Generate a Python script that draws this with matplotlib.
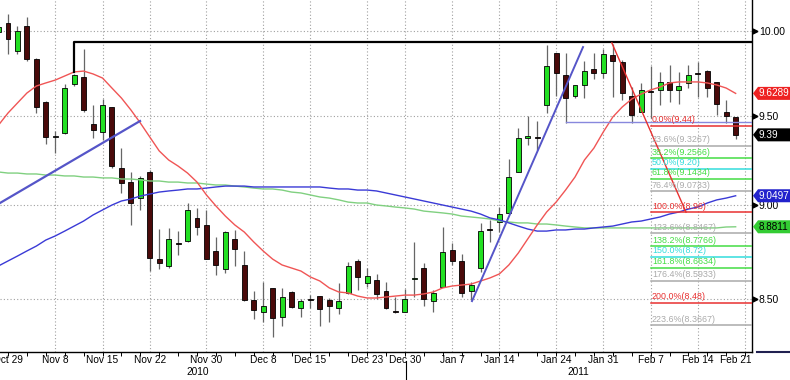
import numpy as np
import matplotlib.pyplot as plt
from matplotlib.patches import Rectangle, Polygon
from matplotlib.lines import Line2D
from matplotlib.ticker import NullLocator

plt.rcParams['font.family'] = ['Liberation Sans', 'DejaVu Sans']

W, H = 790, 380

# daily candles, first one (index -1) is cut by the left edge
opens = [9.994, 10.049, 9.880, 10.030, 9.832, 9.579, 9.378, 9.401, 9.684, 9.725,
         9.452, 9.407, 9.550, 9.203, 9.125, 9.037, 9.181, 8.709, 8.673, 8.794,
         8.805, 8.929, 8.891, 8.752, 8.657, 8.816, 8.678, 8.496, 8.434, 8.558,
         8.408, 8.537, 8.455, 8.496, 8.516, 8.496, 8.455, 8.532, 8.699, 8.584,
         8.599, 8.542, 8.439, 8.434, 8.604, 8.662, 8.490, 8.563, 8.757, 8.699,
         8.542, 8.662, 8.869, 8.907, 8.956, 9.181, 9.372, 9.378, 9.561, 9.868,
         9.737, 9.614, 9.678, 9.772, 9.749, 9.856, 9.814, 9.614, 9.521, 9.643,
         9.649, 9.696, 9.649, 9.690, 9.749, 9.760, 9.696, 9.521, 9.492]
highs = [10.036, 10.104, 10.030, 10.085, 9.835, 9.582, 9.412, 9.684, 9.743, 9.891,
         9.561, 9.596, 9.552, 9.315, 9.181, 9.159, 9.192, 8.869, 8.875, 8.858,
         9.010, 8.983, 8.972, 8.826, 8.858, 8.864, 8.752, 8.542, 8.589, 8.560,
         8.558, 8.542, 8.501, 8.521, 8.518, 8.506, 8.584, 8.694, 8.709, 8.662,
         8.631, 8.589, 8.511, 8.552, 8.800, 8.688, 8.547, 8.880, 8.794, 8.736,
         8.589, 8.902, 8.918, 8.988, 9.254, 9.429, 9.498, 9.469, 9.916, 9.870,
         9.868, 9.680, 9.820, 9.868, 9.891, 9.922, 9.826, 9.666, 9.690, 9.790,
         9.755, 9.796, 9.755, 9.796, 9.814, 9.766, 9.698, 9.590, 9.494]
lows = [9.982, 9.862, 9.862, 9.820, 9.515, 9.338, 9.287, 9.395, 9.672, 9.521,
        9.372, 9.361, 9.203, 9.065, 8.891, 8.972, 8.646, 8.657, 8.662, 8.731,
        8.800, 8.837, 8.707, 8.625, 8.636, 8.673, 8.490, 8.398, 8.383, 8.307,
        8.363, 8.455, 8.408, 8.455, 8.363, 8.383, 8.424, 8.527, 8.547, 8.563,
        8.501, 8.450, 8.429, 8.432, 8.511, 8.465, 8.434, 8.561, 8.678, 8.511,
        8.496, 8.641, 8.800, 8.853, 8.954, 9.179, 9.332, 9.304, 9.515, 9.614,
        9.458, 9.602, 9.602, 9.713, 9.719, 9.608, 9.590, 9.458, 9.519, 9.486,
        9.561, 9.579, 9.567, 9.660, 9.608, 9.608, 9.504, 9.458, 9.366]
closes = [10.024, 9.952, 10.000, 9.832, 9.550, 9.378, 9.378, 9.660, 9.737, 9.532,
          9.418, 9.561, 9.214, 9.120, 9.010, 9.148, 8.715, 8.688, 8.816, 8.789,
          8.972, 8.880, 8.709, 8.678, 8.853, 8.762, 8.496, 8.444, 8.465, 8.403,
          8.511, 8.460, 8.490, 8.495, 8.450, 8.465, 8.490, 8.673, 8.615, 8.620,
          8.527, 8.455, 8.434, 8.501, 8.605, 8.501, 8.532, 8.746, 8.699, 8.532,
          8.573, 8.858, 8.864, 8.950, 9.153, 9.372, 9.384, 9.372, 9.790, 9.749,
          9.602, 9.678, 9.760, 9.749, 9.862, 9.820, 9.631, 9.504, 9.649, 9.637,
          9.696, 9.649, 9.672, 9.737, 9.743, 9.660, 9.567, 9.498, 9.390]

ma_fast = [9.446, 9.515, 9.573, 9.631, 9.672, 9.690, 9.707, 9.731, 9.755, 9.760,
           9.743, 9.719, 9.660, 9.602, 9.533, 9.458, 9.378, 9.299, 9.248, 9.214,
           9.175, 9.125, 9.054, 8.994, 8.939, 8.891, 8.853, 8.800, 8.752, 8.709,
           8.678, 8.662, 8.646, 8.615, 8.594, 8.558, 8.537, 8.532, 8.516, 8.506,
           8.506, 8.511, 8.516, 8.521, 8.521, 8.527, 8.537, 8.558, 8.568, 8.573,
           8.578, 8.594, 8.610, 8.631, 8.678, 8.741, 8.816, 8.891, 8.961, 9.015,
           9.081, 9.153, 9.248, 9.315, 9.407, 9.492, 9.550, 9.596, 9.625, 9.649,
           9.666, 9.690, 9.696, 9.696, 9.696, 9.690, 9.678, 9.660, 9.6289]
ma_mid = [8.673, 8.699, 8.725, 8.752, 8.778, 8.810, 8.832, 8.858, 8.885, 8.912,
          8.945, 8.972, 8.999, 9.021, 9.032, 9.048, 9.059, 9.070, 9.076, 9.081,
          9.087, 9.087, 9.092, 9.098, 9.103, 9.103, 9.103, 9.098, 9.098, 9.098,
          9.098, 9.098, 9.098, 9.098, 9.098, 9.092, 9.087, 9.087, 9.081, 9.081,
          9.076, 9.065, 9.054, 9.043, 9.032, 9.021, 9.010, 8.999, 8.988, 8.977,
          8.966, 8.950, 8.929, 8.918, 8.902, 8.885, 8.869, 8.858, 8.858, 8.864,
          8.864, 8.869, 8.869, 8.875, 8.880, 8.885, 8.896, 8.907, 8.912, 8.923,
          8.934, 8.950, 8.961, 8.977, 8.988, 9.010, 9.027, 9.037, 9.0497]
ma_slow = [9.181, 9.175, 9.175, 9.170, 9.170, 9.164, 9.164, 9.159, 9.159, 9.153,
           9.153, 9.148, 9.148, 9.142, 9.142, 9.137, 9.131, 9.131, 9.125, 9.125,
           9.120, 9.120, 9.114, 9.109, 9.109, 9.103, 9.098, 9.092, 9.087, 9.087,
           9.081, 9.070, 9.065, 9.054, 9.043, 9.037, 9.027, 9.015, 9.010, 9.010,
           8.999, 8.994, 8.988, 8.983, 8.977, 8.966, 8.961, 8.956, 8.950, 8.939,
           8.934, 8.929, 8.923, 8.912, 8.907, 8.902, 8.902, 8.896, 8.896, 8.891,
           8.885, 8.880, 8.875, 8.875, 8.875, 8.875, 8.875, 8.875, 8.875, 8.875,
           8.875, 8.875, 8.875, 8.875, 8.875, 8.875, 8.875, 8.880, 8.8811]

date_labels = ['Oct 29', 'Nov 8', 'Nov 15', 'Nov 22', 'Nov 30', 'Dec 8', 'Dec 15', 'Dec 23',
               'Dec 30', 'Jan 7', 'Jan 14', 'Jan 24', 'Jan 31', 'Feb 7', 'Feb 14', 'Feb 21']
date_pos = [0, 5, 10, 15, 21, 27, 32, 38, 42, 47, 52, 58, 63, 68, 73, 78]
year_labels = ['2010', '2011']
year_pos = [20.1, 60.3]

price_ticks = [8.5, 9.0, 9.5, 10.0]

# drawn lines (index, price)
trend1_x, trend1_y = [-0.85, 13.97], [9.010, 9.469]
trend2_x, trend2_y = [49.1, 60.85], [8.490, 9.903]
resist_x, resist_y = [7, 7, 80], [9.755, 9.934, 9.934]
support_x, support_y = [59, 80], [9.463, 9.463]
fib_diag_x, fib_diag_y = [63.9, 71.75], [9.928, 8.96]

fib_start = 68.04
fib_pct = ['0.0%', '23.6%', '38.2%', '50.0%', '61.8%', '76.4%', '100.0%',
           '123.6%', '138.2%', '150.0%', '161.8%', '176.4%', '200.0%', '223.6%']
fib_val = ['9.44', '9.3267', '9.2566', '9.20', '9.1434', '9.0733', '8.96',
           '8.8467', '8.7766', '8.72', '8.6634', '8.5933', '8.48', '8.3667']
RED, GRAY, GRN, CYAN = '#e83030', '#aaaaaa', '#44dd44', '#33dddd'
fib_col = [RED, GRAY, GRN, CYAN, GRN, GRAY, RED, GRAY, GRN, CYAN, GRN, GRAY, RED, GRAY]

fig = plt.figure(figsize=(W / 100, H / 100), dpi=100)
ax = fig.add_axes([0, 28 / H, 752 / W, 352 / H])
ax.set_yscale('log')
ax.set_ylim(8.2321, 10.1896)
ax.set_xlim(-0.847, 78.73)

# grid
for p in price_ticks:
    ax.axhline(p, color='#a0a0a0', lw=0.8, ls=(0, (1, 2)), zorder=0)
for d in date_pos[1:]:
    ax.axvline(d, color='#a0a0a0', lw=0.8, ls=(0, (1, 2)), zorder=0)

# candles
for k, (o, h, l, c) in enumerate(zip(opens, highs, lows, closes)):
    x = k - 1
    if c > o:
        fc = '#22e022'
    elif c < o:
        fc = '#4a0a0a'
    else:
        fc = '#909090'
    ax.vlines(x, l, h, color='#666666', lw=0.9, zorder=2)
    ax.add_patch(Rectangle((x - 0.26, min(o, c)), 0.52, max(abs(c - o), 0.004),
                           fc=fc, ec='black', lw=0.6, zorder=3))

xs = np.arange(len(closes)) - 1
ax.plot(xs, ma_slow, color='#80d080', lw=1.0, zorder=4)
ax.plot(xs, ma_mid, color='#3a3ad6', lw=1.0, zorder=4)
ax.plot(xs, ma_fast, color='#f05555', lw=1.0, zorder=4)

ax.plot(trend1_x, trend1_y, color='#5555c8', lw=1.6, zorder=5)
ax.plot(trend2_x, trend2_y, color='#5555c8', lw=1.4, zorder=5)
ax.plot(resist_x, resist_y, color='black', lw=1.6, zorder=5)
ax.plot(support_x, support_y, color='#8888dd', lw=1.0, zorder=5)
ax.plot(fib_diag_x, fib_diag_y, color=RED, lw=1.0, zorder=5)

for pct, val, col in zip(fib_pct, fib_val, fib_col):
    v = float(val)
    ax.plot([fib_start, 80], [v, v], color=col, lw=1.1, zorder=4)
    ax.text(fib_start + 0.1, v * 1.001, f'{pct}({val})', color=col, fontsize=6.4,
            ha='left', va='bottom', zorder=6)

# axes styling
for s in ['top', 'left']:
    ax.spines[s].set_visible(False)
ax.spines['right'].set_linewidth(1.0)
ax.spines['bottom'].set_linewidth(1.0)
ax.yaxis.tick_right()
ax.set_yticks(price_ticks)
ax.set_yticklabels([f'{p:.2f}' for p in price_ticks])
ax.yaxis.set_minor_locator(NullLocator())
ax.tick_params(axis='y', length=0, pad=5, labelsize=7.5)
ax.plot(np.full(len(price_ticks), 1.004), price_ticks, transform=ax.get_yaxis_transform(),
        marker='>', ms=3.5, color='black', ls='none', clip_on=False)

ax.set_xticks([])
ax.set_xticks(np.arange(0, 79, 2), minor=True)
ax.tick_params(axis='x', which='minor', length=3, direction='out', width=0.7)
xt = ax.get_xaxis_transform()
for lab, pos in zip(date_labels, date_pos):
    px = pos if lab != 'Feb 21' else pos - 1
    ax.text(px, -0.008, lab, transform=xt, ha='center', va='top', fontsize=7.3, clip_on=False)
for lab, pos in zip(year_labels, year_pos):
    ax.text(pos, -0.043, lab, transform=xt, ha='center', va='top', fontsize=7.3, clip_on=False)
ax.plot([42.1, 42.1], [-0.025, -0.09], transform=xt, color='black', lw=0.8, clip_on=False)


def tag(price, text, fc, tc):
    y = ax.transData.transform((0, price))[1]
    pts = [(753, y), (758, y + 6.5), (790, y + 6.5), (790, y - 6.5), (758, y - 6.5)]
    fig.add_artist(Polygon([(a / W, b / H) for a, b in pts], closed=True,
                           transform=fig.transFigure, fc=fc, ec='none'))
    fig.text(758.5 / W, y / H, text, color=tc, fontsize=7.2, ha='left', va='center')


tag(ma_fast[-1], f'{ma_fast[-1]:.4f}', '#ee2222', 'white')
tag(closes[-1], f'{closes[-1]:.2f}', 'black', 'white')
tag(ma_mid[-1], f'{ma_mid[-1]:.4f}', '#2222cc', 'white')
tag(ma_slow[-1], f'{ma_slow[-1]:.4f}', '#33cc33', 'black')
fig.add_artist(Line2D([757 / W, 1], [28 / H, 28 / H], color='#202050', lw=1.5))

fig.savefig('out.png', dpi=100)
